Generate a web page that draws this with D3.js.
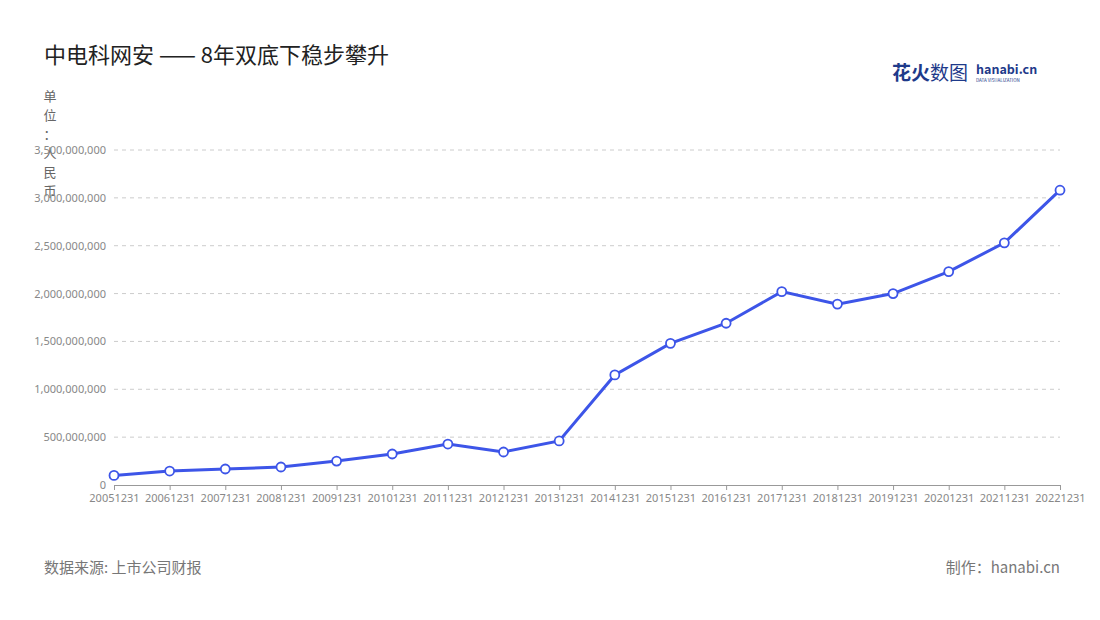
<!DOCTYPE html><html><head><meta charset="utf-8">
<script src="https://cdn.jsdelivr.net/npm/d3@7"></script>
<style>body{margin:0;background:#fff;font-family:"Noto Sans CJK SC","Noto Sans",sans-serif}</style></head><body>
<svg id="c" width="1100" height="620"></svg>
<script>
const categories=["20051231","20061231","20071231","20081231","20091231","20101231","20111231","20121231","20131231","20141231","20151231","20161231","20171231","20181231","20191231","20201231","20211231","20221231"];
const values=[0.10e9,0.146e9,0.167e9,0.188e9,0.25e9,0.324e9,0.428e9,0.345e9,0.46e9,1.15e9,1.48e9,1.69e9,2.02e9,1.89e9,2.0e9,2.23e9,2.53e9,3.08e9];
const yTicks=[0,5e8,1e9,1.5e9,2e9,2.5e9,3e9,3.5e9];
const svg=d3.select("#c");
const x=d3.scalePoint().domain(categories).range([114,1060]);
const y=d3.scaleLinear().domain([0,3.5e9]).range([485,150]);
svg.append("text").attr("x",44).attr("y",63).attr("font-size",22).attr("fill","#222").text("中电科网安 —— 8年双底下稳步攀升");
const lg=svg.append("text").attr("x",892).attr("y",80).attr("font-size",19).attr("font-weight","bold").attr("fill","#1e3a8a");
lg.append("tspan").text("花火");lg.append("tspan").attr("font-weight","normal").text("数图");
svg.append("text").attr("x",976).attr("y",74).attr("font-size",12.5).attr("font-weight","bold").attr("fill","#1e3a8a").text("hanabi.cn");
svg.append("text").attr("x",976).attr("y",82).attr("font-size",4.5).attr("fill","#1e3a8a").text("DATA VISUALIZATION");
const unit="单位：人民币".split("");
unit.forEach((c,i)=>svg.append("text").attr("x",50).attr("y",101+i*19).attr("font-size",13).attr("fill","#666").attr("text-anchor","middle").text(c));
const g=svg.append("g");
yTicks.forEach(t=>{if(t>0)g.append("line").attr("x1",114).attr("x2",1060).attr("y1",y(t)).attr("y2",y(t)).attr("stroke","#ccc").attr("stroke-dasharray","4,4");});
svg.append("g").attr("transform","translate(114,0)").call(d3.axisLeft(y).tickValues(yTicks).tickFormat(d3.format(",")).tickSize(0).tickPadding(8))
 .call(a=>{a.select(".domain").remove();a.selectAll("text").attr("fill","#888").attr("font-size",11).attr("font-family","Noto Sans");});
svg.append("g").attr("transform","translate(0,485)").call(d3.axisBottom(x).tickSize(5).tickPadding(4))
 .call(a=>{a.select(".domain").attr("stroke","#999");a.selectAll("line").attr("stroke","#999");a.selectAll("text").attr("fill","#888").attr("font-size",11).attr("font-family","Noto Sans");});
const data=categories.map((c,i)=>[c,values[i]]);
svg.append("path").datum(data).attr("fill","none").attr("stroke","#3d55e8").attr("stroke-width",3)
 .attr("d",d3.line().x(d=>x(d[0])).y(d=>y(d[1])));
svg.selectAll("circle").data(data).join("circle").attr("cx",d=>x(d[0])).attr("cy",d=>y(d[1])).attr("r",4.5).attr("fill","#fff").attr("stroke","#3d55e8").attr("stroke-width",1.8);
svg.append("text").attr("x",44).attr("y",573).attr("font-size",15).attr("fill","#777").text("数据来源: 上市公司财报");
svg.append("text").attr("x",1060).attr("y",573).attr("font-size",15).attr("fill","#777").attr("text-anchor","end").text("制作：hanabi.cn");
</script></body></html>
